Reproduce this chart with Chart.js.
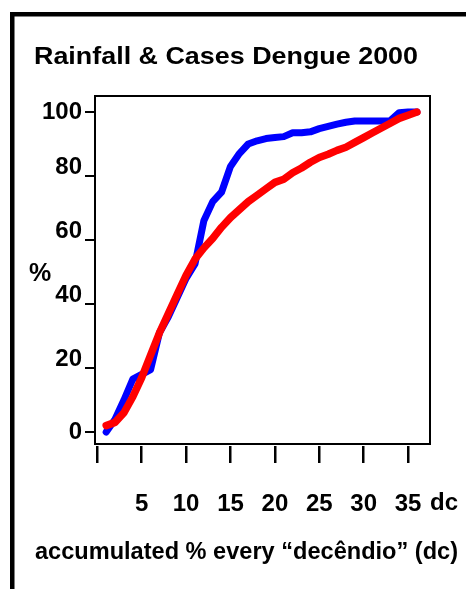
<!DOCTYPE html>
<html>
<head>
<meta charset="utf-8">
<script src="https://cdn.jsdelivr.net/npm/chart.js@4/dist/chart.umd.min.js"></script>
<style>
  html, body { margin: 0; padding: 0; background: #fff; }
  canvas { display: block; }
</style>
</head>
<body>
<canvas id="chart" width="466" height="589"></canvas>
<script>
/* ======================
   DATA
====================== */
const decendios = [1, 2, 3, 4, 5, 6, 7, 8, 9, 10, 11, 12, 13, 14, 15, 16, 17, 18,
  19, 20, 21, 22, 23, 24, 25, 26, 27, 28, 29, 30, 31, 32, 33, 34, 35, 36]

// blue curve
const blueCurve = [0, 4, 10, 16.5, 18, 19.5, 31, 36, 42, 48, 52.5, 66, 72, 75, 83, 87, 90, 91,
  91.7, 92, 92.3, 93.5, 93.5, 93.8, 94.8, 95.5, 96.2, 96.8, 97.2, 97.2, 97.2, 97.2, 97.3, 99.8, 100, 100]

// red curve
const redCurve = [2, 3, 6, 11, 17, 24, 31, 37, 43, 49, 54, 57.5, 60.5, 64, 67, 69.5, 72, 74,
  76, 78, 79, 81, 82.5, 84.3, 85.8, 86.8, 88, 89, 90.5, 92, 93.5, 95, 96.5, 98, 99, 100]

const xTicks = [0, 5, 10, 15, 20, 25, 30, 35]
const yTicks = [0, 20, 40, 60, 80, 100]

const titleText = "Rainfall & Cases Dengue 2000"
const yTitle = "%"
const xUnit = "dc"
const xTitle = "accumulated % every \u201cdec\u00eandio\u201d (dc)"

/* ======================
   SETUP
====================== */
const FONT = "'Liberation Sans', Arial, Helvetica, sans-serif"
Chart.defaults.font.family = FONT
Chart.defaults.color = "#000"

const toPoints = (ys) => decendios.map((x, i) => ({ x, y: ys[i] }))

// text stretched to a given width (the original is a bit wide)
const fillWide = (ctx, text, x, y, width) => {
  const w = ctx.measureText(text).width
  ctx.save()
  ctx.translate(x, y)
  ctx.scale(width / w, 1)
  ctx.fillText(text, 0, 0)
  ctx.restore()
}

/* frame, box and loose texts */
const decorations = {
  id: "decorations",
  beforeDatasetsDraw(chart) {
    const { ctx, chartArea: a } = chart
    ctx.save()
    // outer frame (runs off the picture right and bottom)
    ctx.fillStyle = "#000"
    ctx.fillRect(10, 12, 456, 4.5)
    ctx.fillRect(10, 12, 4.5, 577)
    // plot box
    ctx.strokeStyle = "#000"
    ctx.lineWidth = 2
    ctx.strokeRect(a.left, a.top, a.right - a.left, a.bottom - 2 - a.top)
    ctx.restore()
  },
  afterDraw(chart) {
    const { ctx } = chart
    ctx.save()
    ctx.fillStyle = "#000"
    ctx.textBaseline = "alphabetic"
    ctx.textAlign = "left"

    ctx.font = `bold 24px ${FONT}`
    fillWide(ctx, titleText, 34, 64, 384)

    ctx.font = `bold 25px ${FONT}`
    ctx.textAlign = "center"
    ctx.fillText(yTitle, 40, 281)

    ctx.font = `bold 24px ${FONT}`
    ctx.textAlign = "left"
    ctx.fillText(xUnit, 430, 510)

    ctx.font = `bold 23px ${FONT}`
    fillWide(ctx, xTitle, 35, 559, 423)
    ctx.restore()
  }
}

/* ======================
   CHART
====================== */
new Chart(document.getElementById("chart"), {
  type: "line",
  data: {
    datasets: [
      {
        data: toPoints(redCurve),
        borderColor: "#ff0000",
        borderWidth: 7.5,
        borderCapStyle: "round",
        borderJoinStyle: "round",
        pointRadius: 0,
        tension: 0,
        order: 1
      },
      {
        data: toPoints(blueCurve),
        borderColor: "#0000ff",
        borderWidth: 7,
        borderCapStyle: "round",
        borderJoinStyle: "round",
        pointRadius: 0,
        tension: 0,
        order: 2
      }
    ]
  },
  options: {
    responsive: false,
    devicePixelRatio: 1,
    animation: false,
    events: [],
    layout: { padding: { top: 96, right: 36, left: 0, bottom: 0 } },
    plugins: { legend: { display: false }, tooltip: { enabled: false } },
    scales: {
      x: {
        type: "linear",
        min: -0.26,
        max: 37.47,
        afterFit: (s) => { s.height = 143 },
        afterBuildTicks: (s) => { s.ticks = xTicks.map(v => ({ value: v })) },
        border: { display: false },
        grid: { drawOnChartArea: false, drawTicks: true, tickLength: 17, color: "#000", lineWidth: 2.5 },
        ticks: {
          autoSkip: false,
          maxRotation: 0,
          padding: 27,
          color: "#000",
          font: { size: 24, weight: "bold" },
          callback: (v) => v === 0 ? "" : String(v)
        }
      },
      y: {
        min: -4.375,
        max: 105,
        afterFit: (s) => { s.width = 95 },
        afterBuildTicks: (s) => { s.ticks = yTicks.map(v => ({ value: v })) },
        border: { display: false },
        grid: { drawOnChartArea: false, drawTicks: true, tickLength: 10, color: "#000", lineWidth: 2 },
        ticks: {
          padding: 3,
          color: "#000",
          font: { size: 24, weight: "bold", lineHeight: 0.75 },
          // middle labels sit on their tick, as in the original
          callback: (v) => (v === 0 || v === 100) ? String(v) : [String(v), ""]
        }
      }
    }
  },
  plugins: [decorations]
})
</script>
</body>
</html>
